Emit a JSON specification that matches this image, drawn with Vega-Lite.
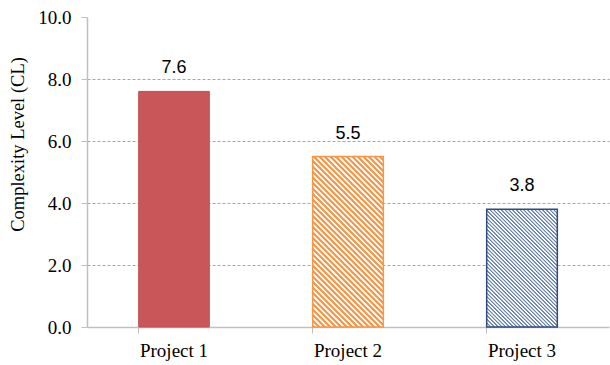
{
  "$schema": "https://vega.github.io/schema/vega-lite/v6.json",
  "width": 522,
  "height": 310,
  "autosize": "none",
  "padding": {"left": 87, "top": 17, "right": 1, "bottom": 38},
  "background": "white",
  "config": {"view": {"stroke": null}},
  "data": {
    "values": [
      {"project": "Project 1", "cl": 7.6},
      {"project": "Project 2", "cl": 5.5},
      {"project": "Project 3", "cl": 3.8}
    ]
  },
  "encoding": {
    "x": {
      "field": "project",
      "type": "nominal",
      "sort": null,
      "scale": {"paddingInner": 0.594, "paddingOuter": 0.297},
      "axis": {
        "title": null,
        "labelAngle": 0,
        "labelFont": "Liberation Serif",
        "labelFontSize": 19,
        "labelColor": "#000000",
        "labelPadding": 8,
        "bandPosition": 0,
        "tickSize": 6,
        "tickColor": "#BFBFBF",
        "domainColor": "#BFBFBF",
        "domainWidth": 1.5,
        "grid": false
      }
    },
    "y": {
      "field": "cl",
      "type": "quantitative",
      "scale": {"domain": [0, 10], "nice": false},
      "axis": {
        "title": "Complexity Level (CL)",
        "titleFont": "Liberation Serif",
        "titleFontSize": 18.5,
        "titleFontWeight": "normal",
        "titleColor": "#000000",
        "titleAlign": "center",
        "titleBaseline": "middle",
        "titleAngle": -90,
        "titleX": -70,
        "titleY": 127,
        "values": [0, 2, 4, 6, 8, 10],
        "format": ".1f",
        "labelFont": "Liberation Serif",
        "labelFontSize": 19,
        "labelColor": "#000000",
        "labelPadding": 10,
        "tickSize": 6,
        "tickColor": "#BFBFBF",
        "domainColor": "#BFBFBF",
        "domainWidth": 1.5,
        "grid": true,
        "gridColor": "#A6A6A6",
        "gridDash": [3, 2],
        "gridWidth": 1,
        "gridOpacity": {"condition": {"test": "datum.value >= 10 || datum.value <= 0", "value": 0}, "value": 1}
      }
    }
  },
  "layer": [
    {
      "transform": [{"filter": "datum.project === 'Project 1'"}],
      "mark": {"type": "bar", "fill": "#C9575A", "stroke": "#C0504D", "strokeWidth": 1}
    },
    {
      "transform": [{"filter": "datum.project === 'Project 2'"}],
      "mark": {
        "type": "bar",
        "stroke": "#F79646",
        "strokeWidth": 1.5,
        "fill": {
          "gradient": "linear",
          "x1": 0, "y1": 1, "x2": 0.5703, "y2": -0.3764,
          "stops": [
            {"offset": 0, "color": "#F79646"}, {"offset": 0.008, "color": "#F79646"}, {"offset": 0.011, "color": "#FFFFFF"}, {"offset": 0.017, "color": "#FFFFFF"},
            {"offset": 0.02, "color": "#F79646"}, {"offset": 0.028, "color": "#F79646"}, {"offset": 0.031, "color": "#FFFFFF"}, {"offset": 0.037, "color": "#FFFFFF"},
            {"offset": 0.04, "color": "#F79646"}, {"offset": 0.048, "color": "#F79646"}, {"offset": 0.051, "color": "#FFFFFF"}, {"offset": 0.057, "color": "#FFFFFF"},
            {"offset": 0.06, "color": "#F79646"}, {"offset": 0.068, "color": "#F79646"}, {"offset": 0.071, "color": "#FFFFFF"}, {"offset": 0.077, "color": "#FFFFFF"},
            {"offset": 0.08, "color": "#F79646"}, {"offset": 0.088, "color": "#F79646"}, {"offset": 0.091, "color": "#FFFFFF"}, {"offset": 0.097, "color": "#FFFFFF"},
            {"offset": 0.1, "color": "#F79646"}, {"offset": 0.108, "color": "#F79646"}, {"offset": 0.111, "color": "#FFFFFF"}, {"offset": 0.117, "color": "#FFFFFF"},
            {"offset": 0.12, "color": "#F79646"}, {"offset": 0.128, "color": "#F79646"}, {"offset": 0.131, "color": "#FFFFFF"}, {"offset": 0.137, "color": "#FFFFFF"},
            {"offset": 0.14, "color": "#F79646"}, {"offset": 0.148, "color": "#F79646"}, {"offset": 0.151, "color": "#FFFFFF"}, {"offset": 0.157, "color": "#FFFFFF"},
            {"offset": 0.16, "color": "#F79646"}, {"offset": 0.168, "color": "#F79646"}, {"offset": 0.171, "color": "#FFFFFF"}, {"offset": 0.177, "color": "#FFFFFF"},
            {"offset": 0.18, "color": "#F79646"}, {"offset": 0.188, "color": "#F79646"}, {"offset": 0.191, "color": "#FFFFFF"}, {"offset": 0.197, "color": "#FFFFFF"},
            {"offset": 0.2, "color": "#F79646"}, {"offset": 0.208, "color": "#F79646"}, {"offset": 0.211, "color": "#FFFFFF"}, {"offset": 0.217, "color": "#FFFFFF"},
            {"offset": 0.22, "color": "#F79646"}, {"offset": 0.228, "color": "#F79646"}, {"offset": 0.231, "color": "#FFFFFF"}, {"offset": 0.237, "color": "#FFFFFF"},
            {"offset": 0.24, "color": "#F79646"}, {"offset": 0.248, "color": "#F79646"}, {"offset": 0.251, "color": "#FFFFFF"}, {"offset": 0.257, "color": "#FFFFFF"},
            {"offset": 0.26, "color": "#F79646"}, {"offset": 0.268, "color": "#F79646"}, {"offset": 0.271, "color": "#FFFFFF"}, {"offset": 0.277, "color": "#FFFFFF"},
            {"offset": 0.28, "color": "#F79646"}, {"offset": 0.288, "color": "#F79646"}, {"offset": 0.291, "color": "#FFFFFF"}, {"offset": 0.297, "color": "#FFFFFF"},
            {"offset": 0.3, "color": "#F79646"}, {"offset": 0.308, "color": "#F79646"}, {"offset": 0.311, "color": "#FFFFFF"}, {"offset": 0.317, "color": "#FFFFFF"},
            {"offset": 0.32, "color": "#F79646"}, {"offset": 0.328, "color": "#F79646"}, {"offset": 0.331, "color": "#FFFFFF"}, {"offset": 0.337, "color": "#FFFFFF"},
            {"offset": 0.34, "color": "#F79646"}, {"offset": 0.348, "color": "#F79646"}, {"offset": 0.351, "color": "#FFFFFF"}, {"offset": 0.357, "color": "#FFFFFF"},
            {"offset": 0.36, "color": "#F79646"}, {"offset": 0.368, "color": "#F79646"}, {"offset": 0.371, "color": "#FFFFFF"}, {"offset": 0.377, "color": "#FFFFFF"},
            {"offset": 0.38, "color": "#F79646"}, {"offset": 0.388, "color": "#F79646"}, {"offset": 0.391, "color": "#FFFFFF"}, {"offset": 0.397, "color": "#FFFFFF"},
            {"offset": 0.4, "color": "#F79646"}, {"offset": 0.408, "color": "#F79646"}, {"offset": 0.411, "color": "#FFFFFF"}, {"offset": 0.417, "color": "#FFFFFF"},
            {"offset": 0.42, "color": "#F79646"}, {"offset": 0.428, "color": "#F79646"}, {"offset": 0.431, "color": "#FFFFFF"}, {"offset": 0.437, "color": "#FFFFFF"},
            {"offset": 0.44, "color": "#F79646"}, {"offset": 0.448, "color": "#F79646"}, {"offset": 0.451, "color": "#FFFFFF"}, {"offset": 0.457, "color": "#FFFFFF"},
            {"offset": 0.46, "color": "#F79646"}, {"offset": 0.468, "color": "#F79646"}, {"offset": 0.471, "color": "#FFFFFF"}, {"offset": 0.477, "color": "#FFFFFF"},
            {"offset": 0.48, "color": "#F79646"}, {"offset": 0.488, "color": "#F79646"}, {"offset": 0.491, "color": "#FFFFFF"}, {"offset": 0.497, "color": "#FFFFFF"},
            {"offset": 0.5, "color": "#F79646"}, {"offset": 0.508, "color": "#F79646"}, {"offset": 0.511, "color": "#FFFFFF"}, {"offset": 0.517, "color": "#FFFFFF"},
            {"offset": 0.52, "color": "#F79646"}, {"offset": 0.528, "color": "#F79646"}, {"offset": 0.531, "color": "#FFFFFF"}, {"offset": 0.537, "color": "#FFFFFF"},
            {"offset": 0.54, "color": "#F79646"}, {"offset": 0.548, "color": "#F79646"}, {"offset": 0.551, "color": "#FFFFFF"}, {"offset": 0.557, "color": "#FFFFFF"},
            {"offset": 0.56, "color": "#F79646"}, {"offset": 0.568, "color": "#F79646"}, {"offset": 0.571, "color": "#FFFFFF"}, {"offset": 0.577, "color": "#FFFFFF"},
            {"offset": 0.58, "color": "#F79646"}, {"offset": 0.588, "color": "#F79646"}, {"offset": 0.591, "color": "#FFFFFF"}, {"offset": 0.597, "color": "#FFFFFF"},
            {"offset": 0.6, "color": "#F79646"}, {"offset": 0.608, "color": "#F79646"}, {"offset": 0.611, "color": "#FFFFFF"}, {"offset": 0.617, "color": "#FFFFFF"},
            {"offset": 0.62, "color": "#F79646"}, {"offset": 0.628, "color": "#F79646"}, {"offset": 0.631, "color": "#FFFFFF"}, {"offset": 0.637, "color": "#FFFFFF"},
            {"offset": 0.64, "color": "#F79646"}, {"offset": 0.648, "color": "#F79646"}, {"offset": 0.651, "color": "#FFFFFF"}, {"offset": 0.657, "color": "#FFFFFF"},
            {"offset": 0.66, "color": "#F79646"}, {"offset": 0.668, "color": "#F79646"}, {"offset": 0.671, "color": "#FFFFFF"}, {"offset": 0.677, "color": "#FFFFFF"},
            {"offset": 0.68, "color": "#F79646"}, {"offset": 0.688, "color": "#F79646"}, {"offset": 0.691, "color": "#FFFFFF"}, {"offset": 0.697, "color": "#FFFFFF"},
            {"offset": 0.7, "color": "#F79646"}, {"offset": 0.708, "color": "#F79646"}, {"offset": 0.711, "color": "#FFFFFF"}, {"offset": 0.717, "color": "#FFFFFF"},
            {"offset": 0.72, "color": "#F79646"}, {"offset": 0.728, "color": "#F79646"}, {"offset": 0.731, "color": "#FFFFFF"}, {"offset": 0.737, "color": "#FFFFFF"},
            {"offset": 0.74, "color": "#F79646"}, {"offset": 0.748, "color": "#F79646"}, {"offset": 0.751, "color": "#FFFFFF"}, {"offset": 0.757, "color": "#FFFFFF"},
            {"offset": 0.76, "color": "#F79646"}, {"offset": 0.768, "color": "#F79646"}, {"offset": 0.771, "color": "#FFFFFF"}, {"offset": 0.777, "color": "#FFFFFF"},
            {"offset": 0.78, "color": "#F79646"}, {"offset": 0.788, "color": "#F79646"}, {"offset": 0.791, "color": "#FFFFFF"}, {"offset": 0.797, "color": "#FFFFFF"},
            {"offset": 0.8, "color": "#F79646"}, {"offset": 0.808, "color": "#F79646"}, {"offset": 0.811, "color": "#FFFFFF"}, {"offset": 0.817, "color": "#FFFFFF"},
            {"offset": 0.82, "color": "#F79646"}, {"offset": 0.828, "color": "#F79646"}, {"offset": 0.831, "color": "#FFFFFF"}, {"offset": 0.837, "color": "#FFFFFF"},
            {"offset": 0.84, "color": "#F79646"}, {"offset": 0.848, "color": "#F79646"}, {"offset": 0.851, "color": "#FFFFFF"}, {"offset": 0.857, "color": "#FFFFFF"},
            {"offset": 0.86, "color": "#F79646"}, {"offset": 0.868, "color": "#F79646"}, {"offset": 0.871, "color": "#FFFFFF"}, {"offset": 0.877, "color": "#FFFFFF"},
            {"offset": 0.88, "color": "#F79646"}, {"offset": 0.888, "color": "#F79646"}, {"offset": 0.891, "color": "#FFFFFF"}, {"offset": 1, "color": "#FFFFFF"}
          ]
        }
      }
    },
    {
      "transform": [{"filter": "datum.project === 'Project 3'"}],
      "mark": {
        "type": "bar",
        "stroke": "#2E4C7E",
        "strokeWidth": 1.5,
        "fill": {
          "gradient": "linear",
          "x1": 0, "y1": 1, "x2": 0.7021, "y2": -0.1707,
          "stops": [
            {"offset": 0, "color": "#6580AE"}, {"offset": 0.005, "color": "#6580AE"}, {"offset": 0.009, "color": "#FFFFFF"}, {"offset": 0.016, "color": "#FFFFFF"},
            {"offset": 0.02, "color": "#6580AE"}, {"offset": 0.025, "color": "#6580AE"}, {"offset": 0.029, "color": "#FFFFFF"}, {"offset": 0.036, "color": "#FFFFFF"},
            {"offset": 0.04, "color": "#6580AE"}, {"offset": 0.045, "color": "#6580AE"}, {"offset": 0.049, "color": "#FFFFFF"}, {"offset": 0.056, "color": "#FFFFFF"},
            {"offset": 0.06, "color": "#6580AE"}, {"offset": 0.065, "color": "#6580AE"}, {"offset": 0.069, "color": "#FFFFFF"}, {"offset": 0.076, "color": "#FFFFFF"},
            {"offset": 0.08, "color": "#6580AE"}, {"offset": 0.085, "color": "#6580AE"}, {"offset": 0.089, "color": "#FFFFFF"}, {"offset": 0.096, "color": "#FFFFFF"},
            {"offset": 0.1, "color": "#6580AE"}, {"offset": 0.105, "color": "#6580AE"}, {"offset": 0.109, "color": "#FFFFFF"}, {"offset": 0.116, "color": "#FFFFFF"},
            {"offset": 0.12, "color": "#6580AE"}, {"offset": 0.125, "color": "#6580AE"}, {"offset": 0.129, "color": "#FFFFFF"}, {"offset": 0.136, "color": "#FFFFFF"},
            {"offset": 0.14, "color": "#6580AE"}, {"offset": 0.145, "color": "#6580AE"}, {"offset": 0.149, "color": "#FFFFFF"}, {"offset": 0.156, "color": "#FFFFFF"},
            {"offset": 0.16, "color": "#6580AE"}, {"offset": 0.165, "color": "#6580AE"}, {"offset": 0.169, "color": "#FFFFFF"}, {"offset": 0.176, "color": "#FFFFFF"},
            {"offset": 0.18, "color": "#6580AE"}, {"offset": 0.185, "color": "#6580AE"}, {"offset": 0.189, "color": "#FFFFFF"}, {"offset": 0.196, "color": "#FFFFFF"},
            {"offset": 0.2, "color": "#6580AE"}, {"offset": 0.205, "color": "#6580AE"}, {"offset": 0.209, "color": "#FFFFFF"}, {"offset": 0.216, "color": "#FFFFFF"},
            {"offset": 0.22, "color": "#6580AE"}, {"offset": 0.225, "color": "#6580AE"}, {"offset": 0.229, "color": "#FFFFFF"}, {"offset": 0.236, "color": "#FFFFFF"},
            {"offset": 0.24, "color": "#6580AE"}, {"offset": 0.245, "color": "#6580AE"}, {"offset": 0.249, "color": "#FFFFFF"}, {"offset": 0.256, "color": "#FFFFFF"},
            {"offset": 0.26, "color": "#6580AE"}, {"offset": 0.265, "color": "#6580AE"}, {"offset": 0.269, "color": "#FFFFFF"}, {"offset": 0.276, "color": "#FFFFFF"},
            {"offset": 0.28, "color": "#6580AE"}, {"offset": 0.285, "color": "#6580AE"}, {"offset": 0.289, "color": "#FFFFFF"}, {"offset": 0.296, "color": "#FFFFFF"},
            {"offset": 0.3, "color": "#6580AE"}, {"offset": 0.305, "color": "#6580AE"}, {"offset": 0.309, "color": "#FFFFFF"}, {"offset": 0.316, "color": "#FFFFFF"},
            {"offset": 0.32, "color": "#6580AE"}, {"offset": 0.325, "color": "#6580AE"}, {"offset": 0.329, "color": "#FFFFFF"}, {"offset": 0.336, "color": "#FFFFFF"},
            {"offset": 0.34, "color": "#6580AE"}, {"offset": 0.345, "color": "#6580AE"}, {"offset": 0.349, "color": "#FFFFFF"}, {"offset": 0.356, "color": "#FFFFFF"},
            {"offset": 0.36, "color": "#6580AE"}, {"offset": 0.365, "color": "#6580AE"}, {"offset": 0.369, "color": "#FFFFFF"}, {"offset": 0.376, "color": "#FFFFFF"},
            {"offset": 0.38, "color": "#6580AE"}, {"offset": 0.385, "color": "#6580AE"}, {"offset": 0.389, "color": "#FFFFFF"}, {"offset": 0.396, "color": "#FFFFFF"},
            {"offset": 0.4, "color": "#6580AE"}, {"offset": 0.405, "color": "#6580AE"}, {"offset": 0.409, "color": "#FFFFFF"}, {"offset": 0.416, "color": "#FFFFFF"},
            {"offset": 0.42, "color": "#6580AE"}, {"offset": 0.425, "color": "#6580AE"}, {"offset": 0.429, "color": "#FFFFFF"}, {"offset": 0.436, "color": "#FFFFFF"},
            {"offset": 0.44, "color": "#6580AE"}, {"offset": 0.445, "color": "#6580AE"}, {"offset": 0.449, "color": "#FFFFFF"}, {"offset": 0.456, "color": "#FFFFFF"},
            {"offset": 0.46, "color": "#6580AE"}, {"offset": 0.465, "color": "#6580AE"}, {"offset": 0.469, "color": "#FFFFFF"}, {"offset": 0.476, "color": "#FFFFFF"},
            {"offset": 0.48, "color": "#6580AE"}, {"offset": 0.485, "color": "#6580AE"}, {"offset": 0.489, "color": "#FFFFFF"}, {"offset": 0.496, "color": "#FFFFFF"},
            {"offset": 0.5, "color": "#6580AE"}, {"offset": 0.505, "color": "#6580AE"}, {"offset": 0.509, "color": "#FFFFFF"}, {"offset": 0.516, "color": "#FFFFFF"},
            {"offset": 0.52, "color": "#6580AE"}, {"offset": 0.525, "color": "#6580AE"}, {"offset": 0.529, "color": "#FFFFFF"}, {"offset": 0.536, "color": "#FFFFFF"},
            {"offset": 0.54, "color": "#6580AE"}, {"offset": 0.545, "color": "#6580AE"}, {"offset": 0.549, "color": "#FFFFFF"}, {"offset": 0.556, "color": "#FFFFFF"},
            {"offset": 0.56, "color": "#6580AE"}, {"offset": 0.565, "color": "#6580AE"}, {"offset": 0.569, "color": "#FFFFFF"}, {"offset": 0.576, "color": "#FFFFFF"},
            {"offset": 0.58, "color": "#6580AE"}, {"offset": 0.585, "color": "#6580AE"}, {"offset": 0.589, "color": "#FFFFFF"}, {"offset": 0.596, "color": "#FFFFFF"},
            {"offset": 0.6, "color": "#6580AE"}, {"offset": 0.605, "color": "#6580AE"}, {"offset": 0.609, "color": "#FFFFFF"}, {"offset": 0.616, "color": "#FFFFFF"},
            {"offset": 0.62, "color": "#6580AE"}, {"offset": 0.625, "color": "#6580AE"}, {"offset": 0.629, "color": "#FFFFFF"}, {"offset": 0.636, "color": "#FFFFFF"},
            {"offset": 0.64, "color": "#6580AE"}, {"offset": 0.645, "color": "#6580AE"}, {"offset": 0.649, "color": "#FFFFFF"}, {"offset": 0.656, "color": "#FFFFFF"},
            {"offset": 0.66, "color": "#6580AE"}, {"offset": 0.665, "color": "#6580AE"}, {"offset": 0.669, "color": "#FFFFFF"}, {"offset": 0.676, "color": "#FFFFFF"},
            {"offset": 0.68, "color": "#6580AE"}, {"offset": 0.685, "color": "#6580AE"}, {"offset": 0.689, "color": "#FFFFFF"}, {"offset": 0.696, "color": "#FFFFFF"},
            {"offset": 0.7, "color": "#6580AE"}, {"offset": 0.705, "color": "#6580AE"}, {"offset": 0.709, "color": "#FFFFFF"}, {"offset": 0.716, "color": "#FFFFFF"},
            {"offset": 0.72, "color": "#6580AE"}, {"offset": 0.725, "color": "#6580AE"}, {"offset": 0.729, "color": "#FFFFFF"}, {"offset": 0.736, "color": "#FFFFFF"},
            {"offset": 0.74, "color": "#6580AE"}, {"offset": 0.745, "color": "#6580AE"}, {"offset": 0.749, "color": "#FFFFFF"}, {"offset": 0.756, "color": "#FFFFFF"},
            {"offset": 0.76, "color": "#6580AE"}, {"offset": 0.765, "color": "#6580AE"}, {"offset": 0.769, "color": "#FFFFFF"}, {"offset": 0.776, "color": "#FFFFFF"},
            {"offset": 0.78, "color": "#6580AE"}, {"offset": 0.785, "color": "#6580AE"}, {"offset": 0.789, "color": "#FFFFFF"}, {"offset": 0.796, "color": "#FFFFFF"},
            {"offset": 0.8, "color": "#6580AE"}, {"offset": 0.805, "color": "#6580AE"}, {"offset": 0.809, "color": "#FFFFFF"}, {"offset": 0.816, "color": "#FFFFFF"},
            {"offset": 0.82, "color": "#6580AE"}, {"offset": 0.825, "color": "#6580AE"}, {"offset": 0.829, "color": "#FFFFFF"}, {"offset": 0.836, "color": "#FFFFFF"},
            {"offset": 0.84, "color": "#6580AE"}, {"offset": 0.845, "color": "#6580AE"}, {"offset": 0.849, "color": "#FFFFFF"}, {"offset": 0.856, "color": "#FFFFFF"},
            {"offset": 0.86, "color": "#6580AE"}, {"offset": 0.865, "color": "#6580AE"}, {"offset": 0.869, "color": "#FFFFFF"}, {"offset": 0.876, "color": "#FFFFFF"},
            {"offset": 0.88, "color": "#6580AE"}, {"offset": 0.885, "color": "#6580AE"}, {"offset": 0.889, "color": "#FFFFFF"}, {"offset": 0.896, "color": "#FFFFFF"},
            {"offset": 0.9, "color": "#6580AE"}, {"offset": 0.905, "color": "#6580AE"}, {"offset": 0.909, "color": "#FFFFFF"}, {"offset": 0.916, "color": "#FFFFFF"},
            {"offset": 0.92, "color": "#6580AE"}, {"offset": 0.925, "color": "#6580AE"}, {"offset": 0.929, "color": "#FFFFFF"}, {"offset": 0.936, "color": "#FFFFFF"},
            {"offset": 0.94, "color": "#6580AE"}, {"offset": 0.945, "color": "#6580AE"}, {"offset": 0.949, "color": "#FFFFFF"}, {"offset": 0.956, "color": "#FFFFFF"},
            {"offset": 0.96, "color": "#6580AE"}, {"offset": 0.965, "color": "#6580AE"}, {"offset": 0.969, "color": "#FFFFFF"}, {"offset": 0.976, "color": "#FFFFFF"},
            {"offset": 0.98, "color": "#6580AE"}, {"offset": 0.985, "color": "#6580AE"}, {"offset": 0.989, "color": "#FFFFFF"}, {"offset": 1, "color": "#FFFFFF"}
          ]
        }
      }
    },
    {
      "mark": {
        "type": "text",
        "font": "Liberation Sans",
        "fontSize": 18,
        "color": "#000000",
        "baseline": "alphabetic",
        "dy": -18
      },
      "encoding": {
        "text": {"field": "cl", "type": "quantitative", "format": ".1f"}
      }
    }
  ]
}
